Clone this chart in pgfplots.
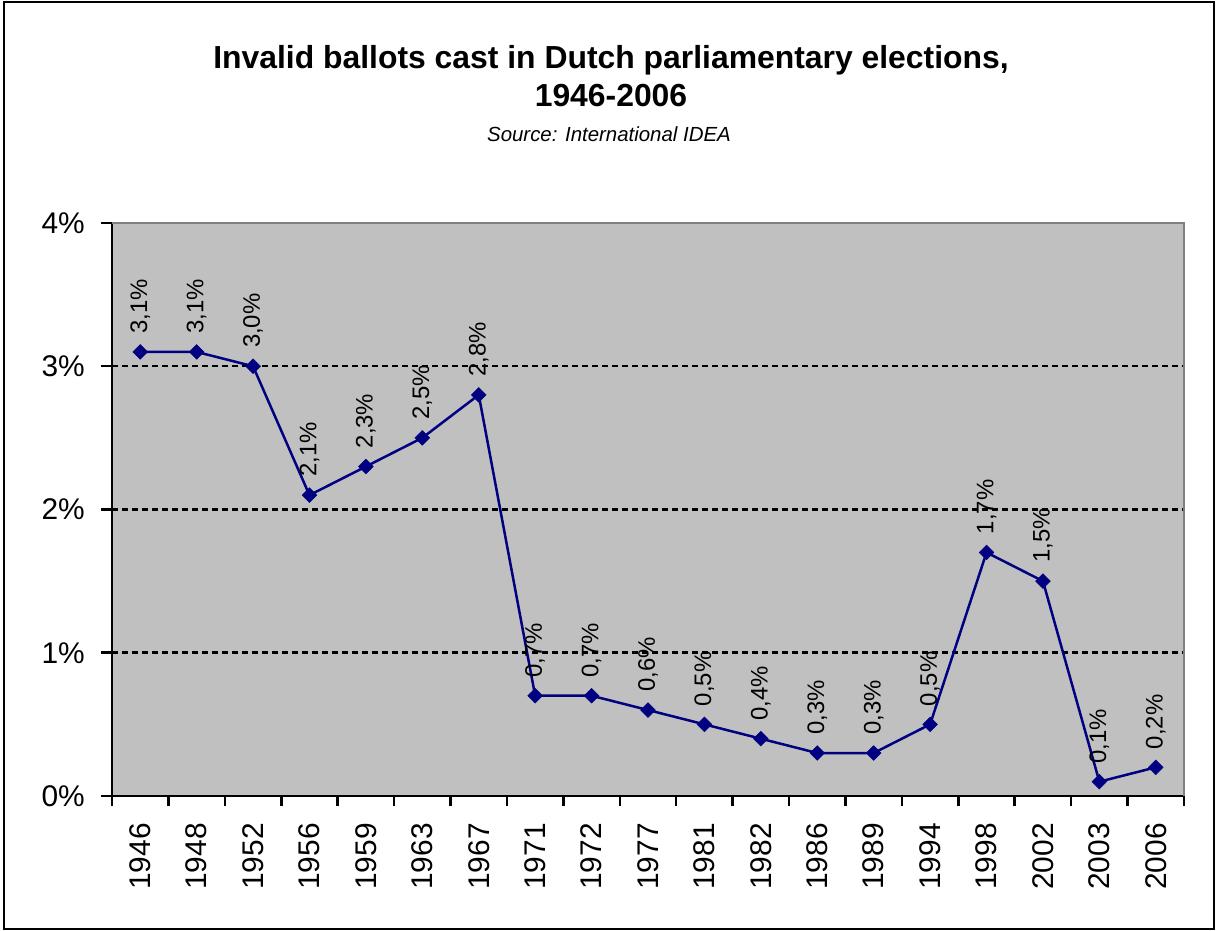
\documentclass[border=0pt]{standalone}
\usepackage{pgfplots}
\pgfplotsset{compat=1.18}
\usepackage{fontspec}
\setmainfont{Liberation Sans}

\definecolor{plotbg}{HTML}{C0C0C0}
\definecolor{seriesblue}{HTML}{000080}
\definecolor{framegray}{HTML}{808080}

\begin{document}
\begin{tikzpicture}[x=1bp,y=1bp]
  \path[use as bounding box] (0,0) rectangle (1216,931);
  \draw[line width=2bp] (4,2) rectangle (1214,929);

  % titles
  \node[anchor=base, font=\fontsize{32}{36}\selectfont\bfseries] at (611,862)
    {Invalid ballots cast in Dutch parliamentary elections,};
  \node[anchor=base, font=\fontsize{32}{36}\selectfont\bfseries] at (611,824)
    {1946-2006};
  \node[anchor=base, font=\fontsize{20.5}{24}\selectfont\itshape] at (609,789)
    {Source: International IDEA};

  \begin{axis}[
    at={(112bp,135bp)}, anchor=south west,
    scale only axis, width=1072bp, height=573bp,
    xmin=-0.5, xmax=18.5, ymin=0, ymax=4,
    axis x line*=bottom, axis y line*=left,
    axis line style={line width=2.5bp, black, -},
    axis background/.style={fill=plotbg},
    xtick={0,...,18},
    xticklabels={1946,1948,1952,1956,1959,1963,1967,1971,1972,1977,1981,1982,1986,1989,1994,1998,2002,2003,2006},
    minor xtick={-0.5,0.5,...,18.5},
    major x tick style={draw=none},
    minor x tick style={line width=2.5bp, black},
    minor tick length=10bp,
    ytick={0,1,2,3,4},
    yticklabels={0\%,1\%,2\%,3\%,4\%},
    y tick style={line width=2.5bp, black},
    major tick length=11bp,
    tick align=outside,
    ymajorgrids,
    grid style={black, line width=2.5bp, dash pattern=on 6bp off 4bp},
    tick label style={font=\fontsize{30}{34}\selectfont},
    xticklabel style={rotate=90, anchor=east, inner sep=0pt},
    xticklabel shift=16bp,
    yticklabel style={anchor=east, inner sep=0pt},
    yticklabel shift=16bp,
    clip=false,
    nodes near coords={\pgfmathprintnumber[fixed, fixed zerofill, precision=1, use comma, assume math mode=true]{\pgfplotspointmeta}\%},
    every node near coord/.append style={rotate=90, anchor=west, inner xsep=18bp, inner ysep=0pt,
      font=\fontsize{24}{28}\selectfont, text=black},
  ]
    \draw[framegray, line width=2.5bp] (rel axis cs:0,1) -- (rel axis cs:1,1) -- (rel axis cs:1,0);
    \addplot[seriesblue, line width=2.5bp, mark=square*, mark size=5.2bp,
      mark options={rotate=45, fill=seriesblue, draw=seriesblue, line width=0.5bp}]
      coordinates {
        (0,3.1) (1,3.1) (2,3.0) (3,2.1) (4,2.3) (5,2.5) (6,2.8)
        (7,0.7) (8,0.7) (9,0.6) (10,0.5) (11,0.4) (12,0.3) (13,0.3)
        (14,0.5) (15,1.7) (16,1.5) (17,0.1) (18,0.2)
      };
  \end{axis}
\end{tikzpicture}
\end{document}
